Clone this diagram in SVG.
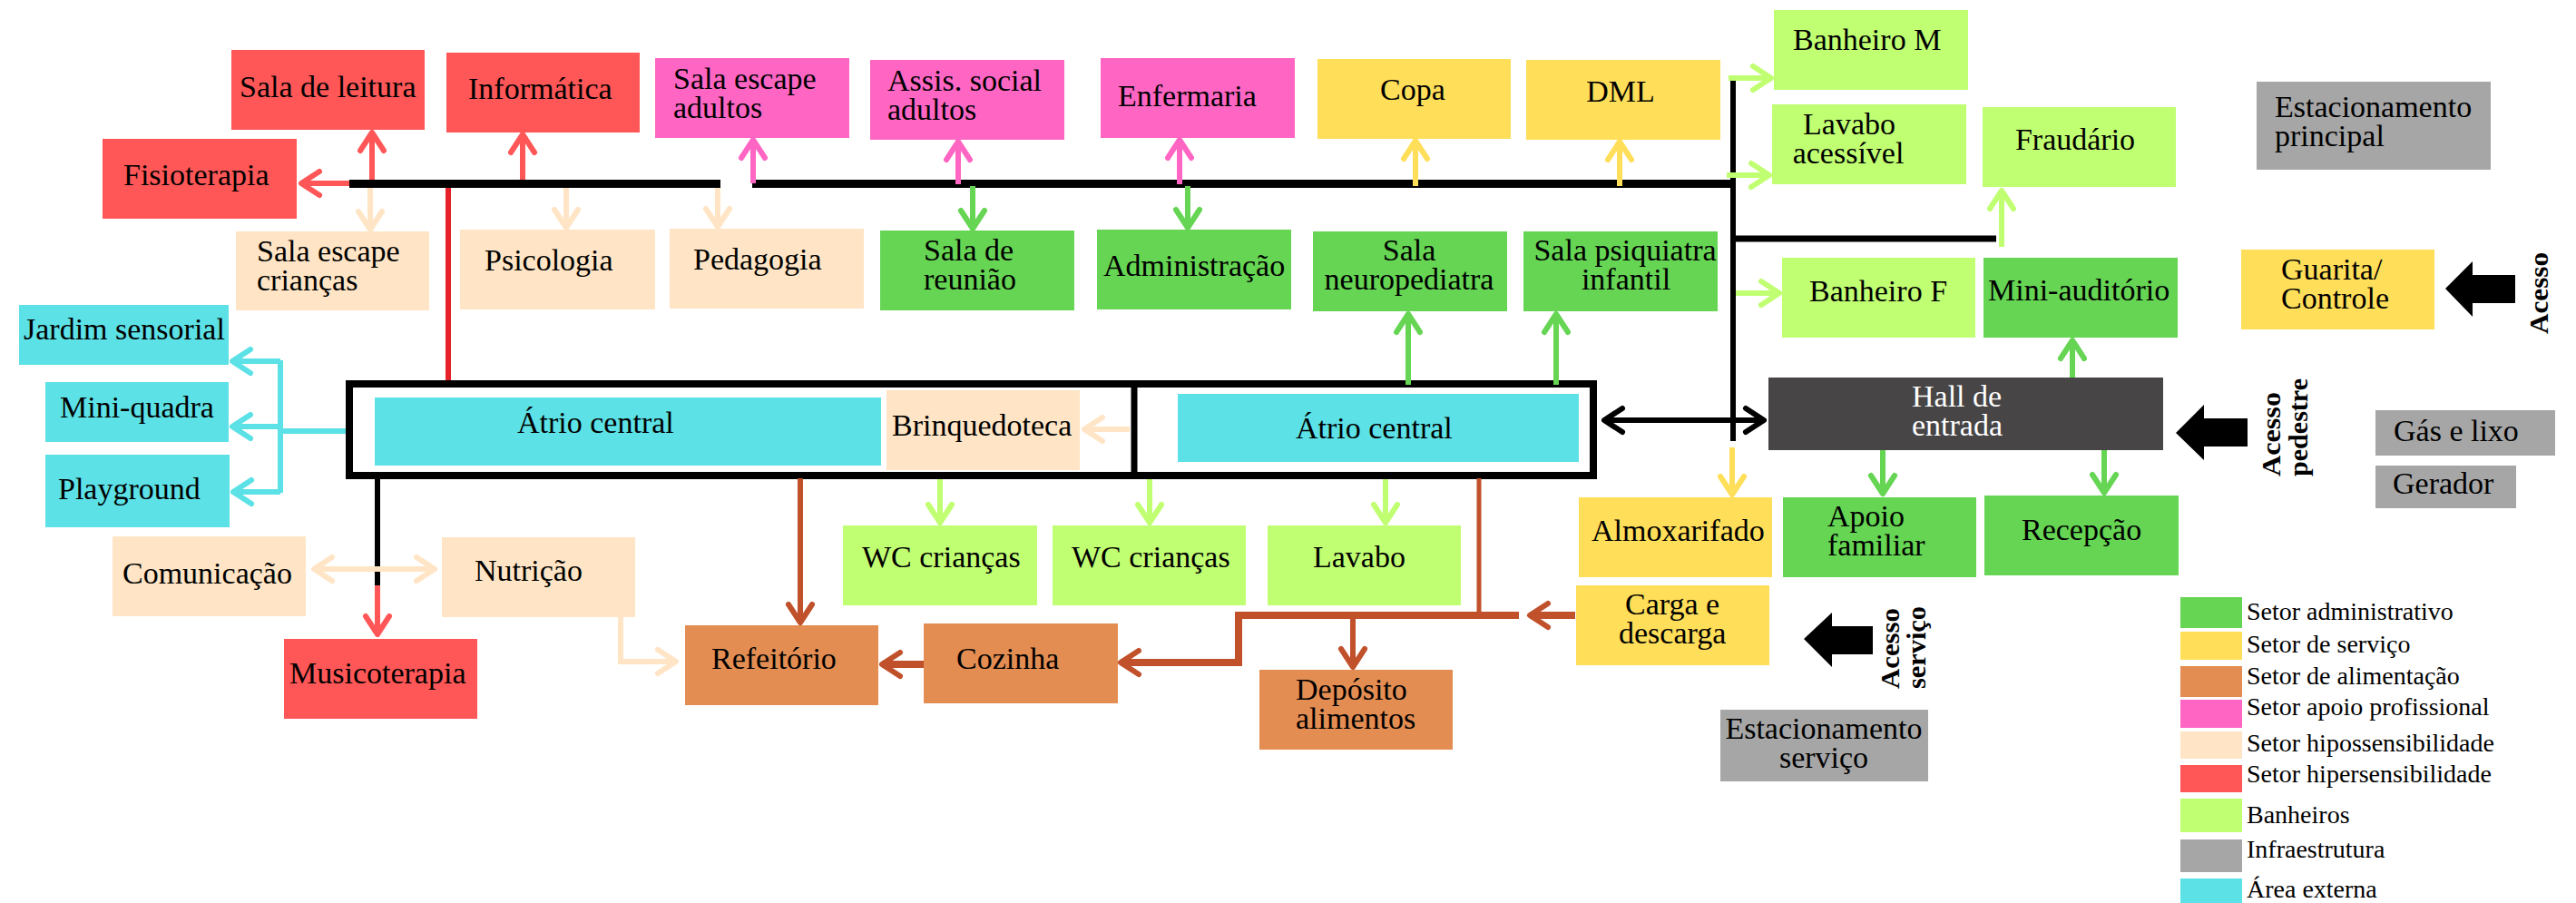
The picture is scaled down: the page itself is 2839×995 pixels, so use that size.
<svg xmlns="http://www.w3.org/2000/svg" width="2839" height="995" viewBox="0 0 2839 995">
<style>
text{font-family:"Liberation Serif","Times New Roman",serif;font-size:34px;fill:#000}
.m{text-anchor:middle}
.w{fill:#fff}
.lg{font-size:28px}
.acc{font-weight:bold;font-size:30px}
.red{fill:#ff5757}.pink{fill:#ff66c4}.peach{fill:#ffe5c5}.green{fill:#65d553}.yellow{fill:#ffde59}
.lgreen{fill:#c1ff72}.orange{fill:#e38d52}.gray{fill:#a6a6a6}.cyan{fill:#5ce1e6}.dark{fill:#474546}
#connectors path{fill:none;stroke-width:6}
.cr{stroke:#ff5757}.cp{stroke:#ff66c4}.cpe{stroke:#ffe5c5}.cg{stroke:#65d553}.cy{stroke:#ffde59}
.clg{stroke:#c1ff72}.cc{stroke:#5ce1e6}.cb{stroke:#c0512b}.ck{stroke:#000}
</style>
<defs>
<marker id="h-red" markerUnits="userSpaceOnUse" viewBox="-30 -20 40 40" markerWidth="40" markerHeight="40" refX="0" refY="0" orient="auto"><path d="M-20,-13 L0,0 L-20,13" fill="none" stroke="#ff5757" stroke-width="6" stroke-linecap="round" stroke-linejoin="round"/></marker>
<marker id="h-pink" markerUnits="userSpaceOnUse" viewBox="-30 -20 40 40" markerWidth="40" markerHeight="40" refX="0" refY="0" orient="auto"><path d="M-20,-13 L0,0 L-20,13" fill="none" stroke="#ff66c4" stroke-width="6" stroke-linecap="round" stroke-linejoin="round"/></marker>
<marker id="h-peach" markerUnits="userSpaceOnUse" viewBox="-30 -20 40 40" markerWidth="40" markerHeight="40" refX="0" refY="0" orient="auto-start-reverse"><path d="M-20,-13 L0,0 L-20,13" fill="none" stroke="#ffe5c5" stroke-width="6" stroke-linecap="round" stroke-linejoin="round"/></marker>
<marker id="h-green" markerUnits="userSpaceOnUse" viewBox="-30 -20 40 40" markerWidth="40" markerHeight="40" refX="0" refY="0" orient="auto"><path d="M-20,-13 L0,0 L-20,13" fill="none" stroke="#65d553" stroke-width="6" stroke-linecap="round" stroke-linejoin="round"/></marker>
<marker id="h-yellow" markerUnits="userSpaceOnUse" viewBox="-30 -20 40 40" markerWidth="40" markerHeight="40" refX="0" refY="0" orient="auto"><path d="M-20,-13 L0,0 L-20,13" fill="none" stroke="#ffde59" stroke-width="6" stroke-linecap="round" stroke-linejoin="round"/></marker>
<marker id="h-lgreen" markerUnits="userSpaceOnUse" viewBox="-30 -20 40 40" markerWidth="40" markerHeight="40" refX="0" refY="0" orient="auto"><path d="M-20,-13 L0,0 L-20,13" fill="none" stroke="#c1ff72" stroke-width="6" stroke-linecap="round" stroke-linejoin="round"/></marker>
<marker id="h-cyan" markerUnits="userSpaceOnUse" viewBox="-30 -20 40 40" markerWidth="40" markerHeight="40" refX="0" refY="0" orient="auto"><path d="M-20,-13 L0,0 L-20,13" fill="none" stroke="#5ce1e6" stroke-width="6" stroke-linecap="round" stroke-linejoin="round"/></marker>
<marker id="h-brown" markerUnits="userSpaceOnUse" viewBox="-30 -20 40 40" markerWidth="40" markerHeight="40" refX="0" refY="0" orient="auto"><path d="M-20,-13 L0,0 L-20,13" fill="none" stroke="#c0512b" stroke-width="6" stroke-linecap="round" stroke-linejoin="round"/></marker>
<marker id="h-black" markerUnits="userSpaceOnUse" viewBox="-30 -20 40 40" markerWidth="40" markerHeight="40" refX="0" refY="0" orient="auto-start-reverse"><path d="M-20,-13 L0,0 L-20,13" fill="none" stroke="#000" stroke-width="6" stroke-linecap="round" stroke-linejoin="round"/></marker>
</defs>
<rect width="2839" height="995" fill="#fff"/>

<g id="connectors">
  <path class="ck" d="M385,202.5 H794" style="stroke-width:9"/>
  <path class="ck" d="M829,202.5 H1913" style="stroke-width:9"/>
  <path class="ck" d="M1910,88 V486"/>
  <path class="ck" d="M1910,263 H2200" style="stroke-width:7"/>
  <rect x="385" y="423" width="1371" height="101" fill="none" stroke="#000" stroke-width="8"/>
  <path class="ck" d="M1250,424 V522" style="stroke-width:7"/>
  <path d="M494,207 V419" stroke="#e5222a" style="stroke-width:6"/>
  <path class="cr" d="M385,202 H332" marker-end="url(#h-red)"/>
  <path class="cr" d="M410,198 V146" marker-end="url(#h-red)"/>
  <path class="cr" d="M576,198 V148" marker-end="url(#h-red)"/>
  <path class="cp" d="M830,202 V154" marker-end="url(#h-pink)"/>
  <path class="cp" d="M1056,203 V156" marker-end="url(#h-pink)"/>
  <path class="cp" d="M1300,203 V154" marker-end="url(#h-pink)"/>
  <path class="cy" d="M1560,205 V155" marker-end="url(#h-yellow)"/>
  <path class="cy" d="M1785,205 V156" marker-end="url(#h-yellow)"/>
  <path class="cpe" d="M408,207 V253" marker-end="url(#h-peach)"/>
  <path class="cpe" d="M624,207 V251" marker-end="url(#h-peach)"/>
  <path class="cpe" d="M791,207 V250" marker-end="url(#h-peach)"/>
  <path class="cg" d="M1072,205 V252" marker-end="url(#h-green)"/>
  <path class="cg" d="M1309,205 V251" marker-end="url(#h-green)"/>
  <path class="clg" d="M1905,86 H1952" marker-end="url(#h-lgreen)"/>
  <path class="clg" d="M1903,193 H1950" marker-end="url(#h-lgreen)"/>
  <path class="clg" d="M1913,323 H1961" marker-end="url(#h-lgreen)"/>
  <path class="clg" d="M2206,272 V210" marker-end="url(#h-lgreen)"/>
  <path class="cg" d="M1552,424 V346" marker-end="url(#h-green)"/>
  <path class="cg" d="M1715,424 V346" marker-end="url(#h-green)"/>
  <path class="cpe" d="M1245,473 H1195" marker-end="url(#h-peach)"/>
  <path class="ck" d="M1768,463 H1944" marker-start="url(#h-black)" marker-end="url(#h-black)"/>
  <path class="clg" d="M1036,528 V576" marker-end="url(#h-lgreen)"/>
  <path class="clg" d="M1267,528 V576" marker-end="url(#h-lgreen)"/>
  <path class="clg" d="M1527,528 V576" marker-end="url(#h-lgreen)"/>
  <path class="cy" d="M1909,493 V545" marker-end="url(#h-yellow)"/>
  <path class="cc" d="M381,475 H309 M309,397 V543"/>
  <path class="cc" d="M309,398 H256" marker-end="url(#h-cyan)"/>
  <path class="cc" d="M309,470 H256" marker-end="url(#h-cyan)"/>
  <path class="cc" d="M309,542 H257" marker-end="url(#h-cyan)"/>
  <path class="ck" d="M416,528 V645"/>
  <path class="cr" d="M416,645 V699" marker-end="url(#h-red)"/>
  <path class="cpe" d="M346,627 H479" marker-start="url(#h-peach)" marker-end="url(#h-peach)"/>
  <path class="cpe" d="M684,680 V729 H745" marker-end="url(#h-peach)"/>
  <path class="cb" d="M882,527 V686" marker-end="url(#h-brown)"/>
  <path class="cb" d="M1630,527 V678" style="stroke-width:5"/>
  <path class="cb" d="M1674,678 H1365 V730 H1235" style="stroke-width:8" marker-end="url(#h-brown)"/>
  <path class="cb" d="M1736,678 H1686" style="stroke-width:8" marker-end="url(#h-brown)"/>
  <path class="cb" d="M1491,682 V735" marker-end="url(#h-brown)"/>
  <path class="cb" d="M1018,732 H972" style="stroke-width:8" marker-end="url(#h-brown)"/>
  <path class="cg" d="M2284,423 V375" marker-end="url(#h-green)"/>
  <path class="cg" d="M2075,496 V544" marker-end="url(#h-green)"/>
  <path class="cg" d="M2319,490 V543" marker-end="url(#h-green)"/>
</g>

<g id="access">
  <polygon points="2695,318 2725,288 2725,303 2772,303 2772,334 2725,334 2725,349" fill="#000"/>
  <text class="acc" transform="translate(2808,368) rotate(-90)" textLength="90" lengthAdjust="spacingAndGlyphs">Acesso</text>
  <polygon points="2398,477 2429,446 2429,461 2477,461 2477,492 2429,492 2429,507" fill="#000"/>
  <text class="acc" transform="translate(2513,525) rotate(-90)" textLength="93" lengthAdjust="spacingAndGlyphs">Acesso</text>
  <text class="acc" transform="translate(2543,525) rotate(-90)" textLength="108" lengthAdjust="spacingAndGlyphs">pedestre</text>
  <polygon points="1988,704 2019,675 2019,690 2064,690 2064,721 2019,721 2019,735" fill="#000"/>
  <text class="acc" transform="translate(2093,759) rotate(-90)" textLength="89" lengthAdjust="spacingAndGlyphs">Acesso</text>
  <text class="acc" transform="translate(2122,759) rotate(-90)" textLength="91" lengthAdjust="spacingAndGlyphs">serviço</text>
</g>

<g id="sala-leitura"><rect class="red" x="255" y="55" width="213" height="88"/><text x="264" y="107">Sala de leitura</text></g>
<g id="informatica"><rect class="red" x="492" y="58" width="213" height="88"/><text x="516" y="109">Informática</text></g>
<g id="sala-escape-adultos"><rect class="pink" x="722" y="64" width="214" height="88"/><text x="742" y="98">Sala escape</text><text x="742" y="130">adultos</text></g>
<g id="fisioterapia"><rect class="red" x="113" y="153" width="214" height="88"/><text x="136" y="204">Fisioterapia</text></g>
<g id="sala-escape-criancas"><rect class="peach" x="260" y="255" width="213" height="87"/><text x="283" y="288">Sala escape</text><text x="283" y="320">crianças</text></g>
<g id="psicologia"><rect class="peach" x="507" y="253" width="215" height="88"/><text x="534" y="298">Psicologia</text></g>
<g id="pedagogia"><rect class="peach" x="738" y="252" width="214" height="88"/><text x="764" y="297">Pedagogia</text></g>
<g id="assis-social"><rect class="pink" x="959" y="66" width="214" height="88"/><text x="978" y="100">Assis. social</text><text x="978" y="132">adultos</text></g>
<g id="enfermaria"><rect class="pink" x="1213" y="64" width="214" height="88"/><text x="1232" y="117">Enfermaria</text></g>
<g id="copa"><rect class="yellow" x="1452" y="65" width="213" height="88"/><text class="m" x="1557" y="110">Copa</text></g>
<g id="dml"><rect class="yellow" x="1682" y="66" width="214" height="88"/><text class="m" x="1786" y="112">DML</text></g>
<g id="sala-reuniao"><rect class="green" x="970" y="254" width="214" height="88"/><text x="1018" y="287">Sala de</text><text x="1018" y="319">reunião</text></g>
<g id="administracao"><rect class="green" x="1209" y="253" width="214" height="88"/><text x="1216" y="304">Administração</text></g>
<g id="sala-neuropediatra"><rect class="green" x="1447" y="255" width="214" height="88"/><text class="m" x="1553" y="287">Sala</text><text class="m" x="1553" y="319">neuropediatra</text></g>
<g id="sala-psiquiatra"><rect class="green" x="1679" y="255" width="214" height="88"/><text class="m" x="1791" y="287">Sala psiquiatra</text><text class="m" x="1792" y="319">infantil</text></g>
<g id="banheiro-m"><rect class="lgreen" x="1955" y="11" width="214" height="88"/><text x="1976" y="55">Banheiro M</text></g>
<g id="lavabo-acessivel"><rect class="lgreen" x="1953" y="115" width="214" height="88"/><text class="m" x="2038" y="148">Lavabo</text><text class="m" x="2037" y="180">acessível</text></g>
<g id="fraudario"><rect class="lgreen" x="2185" y="118" width="213" height="88"/><text class="m" x="2287" y="165">Fraudário</text></g>
<g id="estacionamento-principal"><rect class="gray" x="2487" y="90" width="258" height="97"/><text x="2507" y="129">Estacionamento</text><text x="2507" y="161">principal</text></g>
<g id="banheiro-f"><rect class="lgreen" x="1964" y="284" width="213" height="88"/><text x="1994" y="332">Banheiro F</text></g>
<g id="mini-auditorio"><rect class="green" x="2186" y="284" width="214" height="88"/><text x="2191" y="331">Mini-auditório</text></g>
<g id="guarita"><rect class="yellow" x="2470" y="275" width="213" height="88"/><text x="2514" y="308">Guarita/</text><text x="2514" y="340">Controle</text></g>
<g id="jardim-sensorial"><rect class="cyan" x="21" y="336" width="231" height="66"/><text x="26" y="374">Jardim sensorial</text></g>
<g id="mini-quadra"><rect class="cyan" x="50" y="421" width="202" height="66"/><text x="66" y="460">Mini-quadra</text></g>
<g id="playground"><rect class="cyan" x="50" y="501" width="203" height="80"/><text x="64" y="550">Playground</text></g>
<g id="atrio-central-1"><rect class="cyan" x="413" y="438" width="558" height="75"/><text x="570" y="477">Átrio central</text></g>
<g id="brinquedoteca"><rect class="peach" x="977" y="430" width="213" height="88"/><text x="983" y="480">Brinquedoteca</text></g>
<g id="atrio-central-2"><rect class="cyan" x="1298" y="434" width="442" height="75"/><text x="1428" y="483">Átrio central</text></g>
<g id="hall-entrada"><rect class="dark" x="1949" y="416" width="435" height="80"/><text class="w" x="2107" y="448">Hall de</text><text class="w" x="2107" y="480">entrada</text></g>
<g id="wc-criancas-1"><rect class="lgreen" x="929" y="579" width="214" height="88"/><text x="950" y="625">WC crianças</text></g>
<g id="wc-criancas-2"><rect class="lgreen" x="1160" y="579" width="213" height="88"/><text x="1181" y="625">WC crianças</text></g>
<g id="lavabo"><rect class="lgreen" x="1397" y="579" width="213" height="88"/><text x="1447" y="625">Lavabo</text></g>
<g id="almoxarifado"><rect class="yellow" x="1740" y="548" width="213" height="88"/><text x="1754" y="596">Almoxarifado</text></g>
<g id="apoio-familiar"><rect class="green" x="1965" y="548" width="213" height="88"/><text x="2014" y="580">Apoio</text><text x="2014" y="612">familiar</text></g>
<g id="recepcao"><rect class="green" x="2187" y="546" width="214" height="88"/><text x="2228" y="595">Recepção</text></g>
<g id="gas-lixo"><rect class="gray" x="2618" y="452" width="198" height="50"/><text x="2638" y="486">Gás e lixo</text></g>
<g id="gerador"><rect class="gray" x="2618" y="513" width="155" height="47"/><text x="2637" y="544">Gerador</text></g>
<g id="comunicacao"><rect class="peach" x="124" y="591" width="213" height="88"/><text x="135" y="643">Comunicação</text></g>
<g id="nutricao"><rect class="peach" x="487" y="592" width="213" height="88"/><text x="523" y="640">Nutrição</text></g>
<g id="musicoterapia"><rect class="red" x="313" y="704" width="213" height="88"/><text x="319" y="753">Musicoterapia</text></g>
<g id="refeitorio"><rect class="orange" x="755" y="689" width="213" height="88"/><text x="784" y="737">Refeitório</text></g>
<g id="cozinha"><rect class="orange" x="1018" y="687" width="214" height="88"/><text x="1054" y="737">Cozinha</text></g>
<g id="deposito-alimentos"><rect class="orange" x="1388" y="738" width="213" height="88"/><text x="1428" y="771">Depósito</text><text x="1428" y="803">alimentos</text></g>
<g id="carga-descarga"><rect class="yellow" x="1737" y="645" width="213" height="88"/><text x="1791" y="677">Carga e</text><text x="1784" y="709">descarga</text></g>
<g id="estacionamento-servico"><rect class="gray" x="1896" y="782" width="229" height="79"/><text class="m" x="2010" y="814">Estacionamento</text><text class="m" x="2010" y="846">serviço</text></g>

<g id="legend">
  <rect class="green" x="2403" y="658" width="68" height="34"/><text class="lg" x="2476" y="683">Setor administrativo</text>
  <rect class="yellow" x="2403" y="696" width="68" height="31"/><text class="lg" x="2476" y="719">Setor de serviço</text>
  <rect class="orange" x="2403" y="734" width="68" height="34"/><text class="lg" x="2476" y="754">Setor de alimentação</text>
  <rect class="pink" x="2403" y="771" width="68" height="31"/><text class="lg" x="2476" y="788">Setor apoio profissional</text>
  <rect class="peach" x="2403" y="806" width="68" height="30"/><text class="lg" x="2476" y="828">Setor hipossensibilidade</text>
  <rect class="red" x="2403" y="843" width="68" height="30"/><text class="lg" x="2476" y="862">Setor hipersensibilidade</text>
  <rect class="lgreen" x="2403" y="880" width="68" height="37"/><text class="lg" x="2476" y="907">Banheiros</text>
  <rect class="gray" x="2403" y="925" width="68" height="36"/><text class="lg" x="2476" y="945">Infraestrutura</text>
  <rect class="cyan" x="2403" y="968" width="68" height="27"/><text class="lg" x="2476" y="989">Área externa</text>
</g>
</svg>
